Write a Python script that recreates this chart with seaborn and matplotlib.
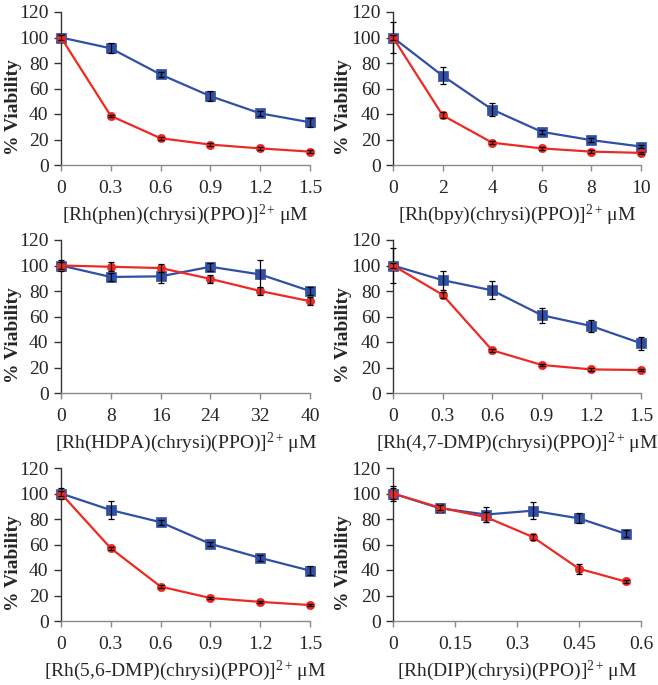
import matplotlib
matplotlib.use("Agg")
import matplotlib.pyplot as plt
import seaborn as sns
import pandas as pd

sns.set_style("white")
plt.rcParams['font.family'] = ['Liberation Serif', 'DejaVu Serif']
plt.rcParams['mathtext.fontset'] = 'custom'
plt.rcParams['mathtext.rm'] = 'Liberation Serif'
plt.rcParams['mathtext.it'] = 'Liberation Serif:italic'
plt.rcParams['mathtext.bf'] = 'Liberation Serif:bold'

# ---------------- data ----------------
ligands = ["phen", "bpy", "HDPA", "4,7-DMP", "5,6-DMP", "DIP"]

x_phen = [0, 0.3, 0.6, 0.9, 1.2, 1.5]
blue_phen = [100, 91.5, 71, 54, 40.5, 33.5]
blue_phen_err = [3, 4, 2, 4, 2, 3.5]
red_phen = [100, 38.5, 21, 16, 13, 10.5]
red_phen_err = [2, 1, 1, 1, 1, 1]

x_bpy = [0, 2, 4, 6, 8, 10]
blue_bpy = [100, 70, 43.5, 26, 19.5, 14.5]
blue_bpy_err = [12, 6.5, 5, 1.5, 1.5, 1.5]
red_bpy = [100, 39, 17.5, 13, 10.5, 9.5]
red_bpy_err = [2, 2.5, 1, 1, 1, 1]

x_hdpa = [0, 8, 16, 24, 32, 40]
blue_hdpa = [100, 91, 91.5, 99, 93, 80]
blue_hdpa_err = [4, 3, 5, 3, 11, 3]
red_hdpa = [100, 99, 98, 89.5, 80, 72]
red_hdpa_err = [3, 3.5, 3, 3, 3.5, 3]

x_47dmp = [0, 0.3, 0.6, 0.9, 1.2, 1.5]
blue_47dmp = [100, 88.5, 80.5, 61, 52.5, 39]
blue_47dmp_err = [14, 7.5, 7, 6, 5, 5]
red_47dmp = [100, 77, 33.5, 22, 18.5, 18]
red_47dmp_err = [2, 2.5, 1, 1, 1, 1]

x_56dmp = [0, 0.3, 0.6, 0.9, 1.2, 1.5]
blue_56dmp = [100, 87, 77.5, 60.5, 49.5, 39.5]
blue_56dmp_err = [4, 7, 2, 1.5, 2.5, 3.5]
red_56dmp = [100, 57, 27, 18, 15, 12.5]
red_56dmp_err = [2, 1, 1, 1, 1, 1]

x_dip = [0, 0.1125, 0.225, 0.3375, 0.45, 0.5625]
blue_dip = [100, 88.5, 83.5, 86.5, 80.5, 68.5]
blue_dip_err = [6, 3, 6, 6.5, 4, 3]
red_dip = [100, 89, 81.5, 66, 41, 31]
red_dip_err = [4, 2, 4, 2.5, 4, 1.5]

xticks_list = [
    [0, 0.3, 0.6, 0.9, 1.2, 1.5],
    [0, 2, 4, 6, 8, 10],
    [0, 8, 16, 24, 32, 40],
    [0, 0.3, 0.6, 0.9, 1.2, 1.5],
    [0, 0.3, 0.6, 0.9, 1.2, 1.5],
    [0, 0.15, 0.3, 0.45, 0.6],
]
xticklabels_list = [
    ["0", "0.3", "0.6", "0.9", "1.2", "1.5"],
    ["0", "2", "4", "6", "8", "10"],
    ["0", "8", "16", "24", "32", "40"],
    ["0", "0.3", "0.6", "0.9", "1.2", "1.5"],
    ["0", "0.3", "0.6", "0.9", "1.2", "1.5"],
    ["0", "0.15", "0.3", "0.45", "0.6"],
]
yticks = [0, 20, 40, 60, 80, 100, 120]

panels = [
    (x_phen, blue_phen, blue_phen_err, red_phen, red_phen_err),
    (x_bpy, blue_bpy, blue_bpy_err, red_bpy, red_bpy_err),
    (x_hdpa, blue_hdpa, blue_hdpa_err, red_hdpa, red_hdpa_err),
    (x_47dmp, blue_47dmp, blue_47dmp_err, red_47dmp, red_47dmp_err),
    (x_56dmp, blue_56dmp, blue_56dmp_err, red_56dmp, red_56dmp_err),
    (x_dip, blue_dip, blue_dip_err, red_dip, red_dip_err),
]

BLUE = "#3050A6"
RED = "#EC2A24"
FS = 14

fig = plt.figure(figsize=(6.58, 6.85), dpi=100)
W, H = 658, 685
lefts = [61, 393]
rights = [310, 641]
tops = [12, 240, 468]
bottoms = [165, 393, 621]
ylabel_right_px = [22, 352]

for i, (lig, (xs, b, be, r, re_)) in enumerate(zip(ligands, panels)):
    row, col = divmod(i, 2)
    wpx = rights[col] - lefts[col]
    ax = fig.add_axes([lefts[col] / W, 1 - bottoms[row] / H,
                       wpx / W, (bottoms[row] - tops[row]) / H])
    df = pd.DataFrame({"x": xs, "blue": b, "red": r})
    sns.lineplot(data=df, x="x", y="blue", ax=ax, color=BLUE, lw=1.6,
                 marker="s", markersize=6.5, markeredgecolor=BLUE,
                 markeredgewidth=0.5, zorder=2)
    ax.errorbar(xs, b, yerr=be, fmt="none", ecolor="black", elinewidth=0.9,
                capsize=2, capthick=0.9, zorder=3)
    sns.lineplot(data=df, x="x", y="red", ax=ax, color=RED, lw=1.6,
                 marker="o", markersize=6, markeredgecolor=RED,
                 markeredgewidth=0.5, zorder=4)
    ax.errorbar(xs, r, yerr=re_, fmt="none", ecolor="black", elinewidth=0.9,
                capsize=2, capthick=0.9, zorder=5)

    ax.set_xlim(xticks_list[i][0], xticks_list[i][-1])
    ax.set_ylim(0, 120)
    ax.set_yticks(yticks)
    ax.set_yticklabels([str(v) for v in yticks], fontsize=FS)
    ax.set_xticks(xticks_list[i])
    ax.set_xticklabels(xticklabels_list[i], fontsize=FS)
    for s in ["top", "right"]:
        ax.spines[s].set_visible(False)
    ax.spines["left"].set_color("#333333")
    ax.spines["bottom"].set_color("#8a8a8a")
    ax.spines["left"].set_linewidth(1.0)
    ax.spines["bottom"].set_linewidth(1.0)
    ax.tick_params(axis="y", direction="out", length=5, width=1.0,
                   color="#333333", left=True, pad=4)
    ax.tick_params(axis="x", direction="out", length=4, width=1.0,
                   color="#8a8a8a", bottom=True, pad=7)
    ax.set_ylabel("% Viability", fontsize=FS, fontweight="bold")
    ax.yaxis.set_label_coords((ylabel_right_px[col] - lefts[col]) / wpx, 0.38)
    ax.set_xlabel("[Rh(" + lig + ")(chrysi)(PPO)]$^{\\mathrm{2+}}\\,$μM",
                  fontsize=FS, labelpad=4)
    ax.grid(False)
    for ln in ax.lines:
        ln.set_clip_on(False)
    for c in ax.collections:
        c.set_clip_on(False)

fig.savefig("out.png", dpi=100)
